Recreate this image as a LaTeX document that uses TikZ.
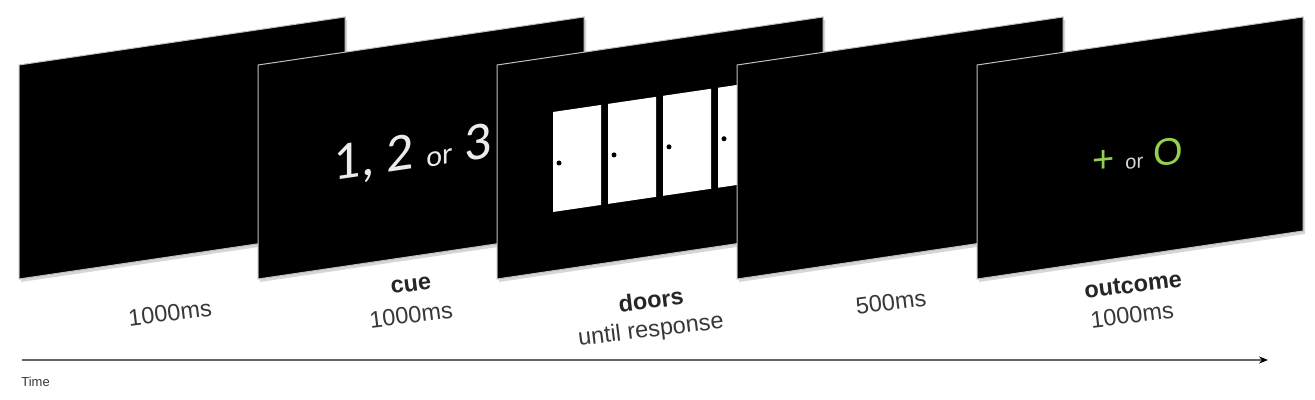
\documentclass[tikz,border=0pt]{standalone}
\usepackage{fontspec}
\setmainfont{Liberation Sans}
\newfontfamily\calfont{Carlito}
\usetikzlibrary{arrows.meta}
\definecolor{labelgray}{HTML}{383838}
\definecolor{okgreen}{HTML}{92D050}
\newcommand\trialpanel[1]{%
  \fill[panelshadow] (#1+2,68) -- (#1+328,20) -- (#1+328,234) -- (#1+2,282) -- cycle;
  \draw[panelbox] (#1,65) -- (#1+326,17) -- (#1+326,231) -- (#1,279) -- cycle;}
\begin{document}
\begin{tikzpicture}[x=0.5pt,y=-0.5pt,
  panelbox/.style={fill=black, draw=black!25, line width=0.5pt},
  panelshadow/.style={fill=black!35, opacity=0.45},
  lbl/.style={text=labelgray, font=\fontsize{11.75}{15}\selectfont, rotate=7, inner sep=0pt},
  lblbold/.style={lbl, font=\fontsize{11.75}{15}\selectfont\bfseries, text=black!85},
  doorbox/.style={fill=white},
  knob/.style={fill=black}]
\useasboundingbox[fill=white] (0,0) rectangle (1315,400);

% panel 1 and 2
\trialpanel{19}
\trialpanel{258}
\node[text=white!92!black, yslant=0.147, anchor=base, inner sep=0pt] (cuetext) at (413,169)
  {\calfont\fontsize{27}{30}\selectfont 1, 2 {\fontsize{15}{18}\selectfont or} 3};

% panel 3 with doors
\trialpanel{497}
\foreach \j in {0,...,3}{
  \pgfmathsetmacro\dx{553+55*\j}
  \pgfmathsetmacro\dy{112-0.147*55*\j}
  \fill[doorbox] (\dx,\dy) -- (\dx+48,\dy-7.06) -- (\dx+48,\dy+92.94) -- (\dx,\dy+100) -- cycle;
  \fill[knob] (\dx+6,\dy+51) circle (2.5);
}

% panels 4 and 5
\trialpanel{737}
\trialpanel{977}
\node[anchor=base, yslant=0.1, inner sep=0pt, font=\fontsize{19}{22}\selectfont] (outtext) at (1138,168.5)
  {{\color{okgreen}+} {\color{white!85!black}\fontsize{10}{12}\selectfont or} {\color{okgreen}O}};

% labels
\node[lbl] (l1) at (170,313) {1000ms};
\node[lblbold] (l2a) at (411,285) {cue};
\node[lbl] (l2b) at (411,315) {1000ms};
\node[lblbold] (l3a) at (651,300) {doors};
\node[lbl] (l3b) at (651,331) {until response};
\node[lbl] (l4) at (891,302) {500ms};
\node[lblbold] (l5a) at (1133,285) {outcome};
\node[lbl] (l5b) at (1132,315) {1000ms};

% time axis
\coordinate (tstart) at (22,360);
\coordinate (tend) at (1268,360);
\draw[draw=black!60, line width=0.9pt, -{Stealth[length=4.5pt,width=3.5pt,color=black]}] (tstart) -- (tend);
\node[anchor=west, text=labelgray, inner sep=0pt, font=\fontsize{6.5}{8}\selectfont] (time) at (21,382) {Time};
\end{tikzpicture}
\end{document}
